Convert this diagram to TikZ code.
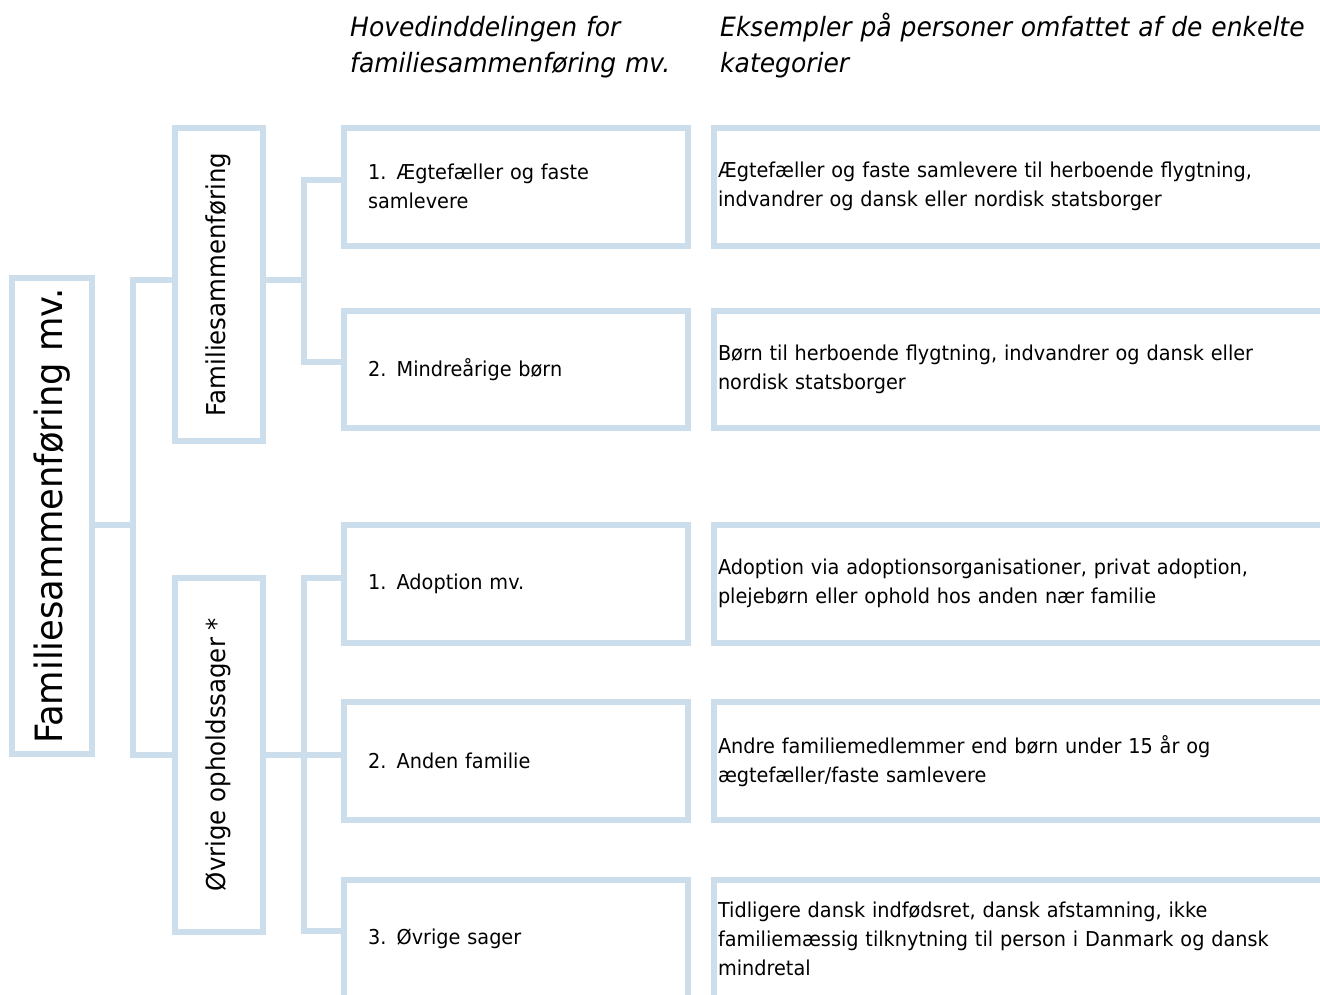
\documentclass[tikz,border=0pt]{standalone}
\usepackage{fontspec}
\setmainfont{DejaVu Sans}[FakeStretch=0.94]
\usepackage{graphicx}
\definecolor{bord}{RGB}{204,221,236}
\tikzset{
  box/.style={draw=bord, line width=6pt, rectangle, inner sep=0pt, outer sep=0pt, text=black},
  conn/.style={draw=bord, line width=6pt},
  bodytxt/.style={font=\fontsize{20.5}{29}\selectfont},
  headtxt/.style={font=\fontsize{26.6}{36}\selectfont\itshape, inner sep=0pt, anchor=base west, align=left},
  midbox/.style={box, bodytxt, minimum width=344.3pt, minimum height=117.5pt, inner xsep=24.3pt, text width=295.7pt, align=left},
  rightbox/.style={box, bodytxt, minimum width=616pt, minimum height=117.5pt, inner xsep=4pt, text width=608pt, align=left},
  vertbox/.style={box, minimum width=88pt, font=\fontsize{26}{30}\selectfont},
}
\begin{document}
\begin{tikzpicture}[x=1pt, y=-1pt]
\useasboundingbox (0,0) rectangle (1320,994);
\clip (0,0) rectangle (1320,994);

% headers
\node[headtxt, text width=360pt] (h1) at (350,36.5) {Hovedinddelingen for\\familiesammenføring mv.};
\node[headtxt, text width=600pt] (h2) at (720,36.5) {Eksempler på personer omfattet af de enkelte\\kategorier};

% left column
\node[box, minimum width=80pt, minimum height=476pt, font=\fontsize{37.6}{40}\selectfont] (main) at (52,516) {\rotatebox{90}{Familiesammenføring mv.}};
\node[vertbox, minimum height=313pt] (fs) at (218.5,284.5) {\rotatebox{90}{Familiesammenføring}};
\node[vertbox, minimum height=354pt] (ov) at (218.5,754.5) {\rotatebox{90}{Øvrige opholdssager *}};

% middle column
\node[midbox] (m1) at (515.85,186.75) {1. Ægtefæller og faste\\samlevere};
\node[midbox] (m2) at (515.85,369.5) {2. Mindreårige børn};
\node[midbox] (m3) at (515.85,583.75) {1. Adoption mv.};
\node[midbox] (m4) at (515.85,760.75) {2. Anden familie};
\node[midbox] (m5) at (515.85,938.75) {3. Øvrige sager};

% right column
\node[rightbox] (r1) at (1022,186.75) {Ægtefæller og faste samlevere til herboende flygtning,\\indvandrer og dansk eller nordisk statsborger};
\node[rightbox] (r2) at (1022,369.5) {Børn til herboende flygtning, indvandrer og dansk eller\\nordisk statsborger};
\node[rightbox] (r3) at (1022,583.75) {Adoption via adoptionsorganisationer, privat adoption,\\plejebørn eller ophold hos anden nær familie};
\node[rightbox] (r4) at (1022,760.75) {Andre familiemedlemmer end børn under 15 år og\\ægtefæller/faste samlevere};
\node[rightbox] (r5) at (1022,938.75) {Tidligere dansk indfødsret, dansk afstamning, ikke\\familiemæssig tilknytning til person i Danmark og dansk\\mindretal};

% junction points
\coordinate (a0) at (133,525);
\coordinate (a1) at (133,280);
\coordinate (a2) at (133,754.5);
\coordinate (b0) at (304,280);
\coordinate (b1) at (304,179.5);
\coordinate (b2) at (304,362);
\coordinate (c1) at (304,578);
\coordinate (c2) at (304,754.5);
\coordinate (c3) at (304,931);

% connectors
\draw[conn] (main.east |- a0) -- (a0);
\draw[conn] (fs.west |- a1) -- (a1) -- (a2) -- (ov.west |- a2);
\draw[conn] (fs.east |- b0) -- (b0);
\draw[conn] (m1.west |- b1) -- (b1) -- (b2) -- (m2.west |- b2);
\draw[conn] (ov.east |- c2) -- (m4.west |- c2);
\draw[conn] (m3.west |- c1) -- (c1) -- (c3) -- (m5.west |- c3);
\end{tikzpicture}
\end{document}
